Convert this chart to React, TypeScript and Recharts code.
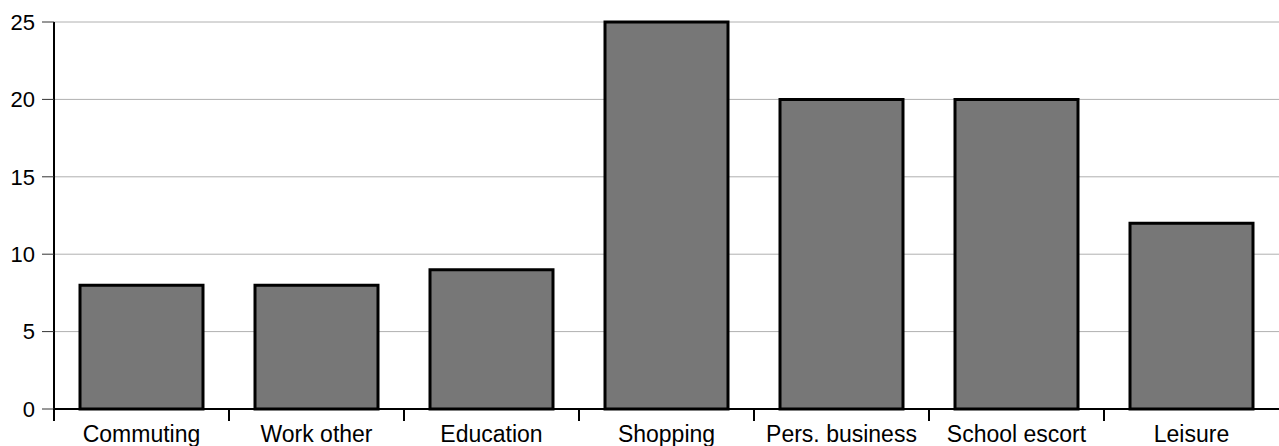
import { BarChart, Bar, XAxis, YAxis, CartesianGrid } from "recharts"

const categories = ["Commuting", "Work other", "Education", "Shopping", "Pers. business", "School escort", "Leisure"]
const values = [8, 8, 9, 25, 20, 20, 12]
const yTicks = [0, 5, 10, 15, 20, 25]

const chartData = categories.map((name, i) => ({ name, value: values[i] }))

const WIDTH = 1279
const HEIGHT = 446
const AXIS_W = 54
const BAND = (WIDTH - AXIS_W) / categories.length

const FONT = '"Liberation Sans", Arial, sans-serif'

// label centred under the bar, tick mark on the left edge of each category
const CategoryTick = ({ x, y, payload }: any) => (
  <g>
    <line x1={x - BAND / 2} x2={x - BAND / 2} y1={y} y2={y + 12} stroke="#000" strokeWidth={2} />
    <text x={x} y={y + 33} textAnchor="middle" fill="#000" fontSize={23} fontFamily={FONT}>
      {payload.value}
    </text>
  </g>
)

export default function App() {
  return (
    <div style={{ position: "absolute", left: 0, top: 0, background: "#fff" }}>
      <BarChart
        width={WIDTH}
        height={HEIGHT}
        data={chartData}
        margin={{ top: 22, right: 0, left: 0, bottom: 0 }}
        barSize={123}
      >
        <CartesianGrid vertical={false} stroke="#b0b0b0" strokeWidth={1} />
        <XAxis
          dataKey="name"
          height={37}
          interval={0}
          tickSize={0}
          tickMargin={0}
          tick={<CategoryTick />}
          axisLine={{ stroke: "#000", strokeWidth: 2 }}
          tickLine={false}
        />
        <YAxis
          width={AXIS_W}
          domain={[0, 25]}
          ticks={yTicks}
          tickSize={12}
          tickMargin={7}
          axisLine={{ stroke: "#000", strokeWidth: 2 }}
          tickLine={{ stroke: "#333", strokeWidth: 1 }}
          tick={{ fill: "#000", fontSize: 22, fontFamily: FONT }}
        />
        <Bar dataKey="value" fill="#777777" stroke="#000" strokeWidth={3} isAnimationActive={false} />
      </BarChart>
    </div>
  )
}
